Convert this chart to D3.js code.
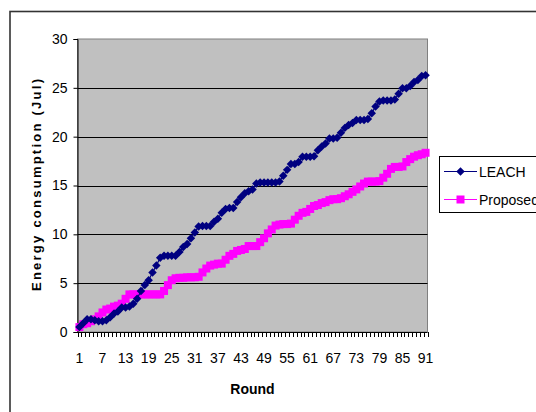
<!DOCTYPE html>
<html>
<head>
<meta charset="utf-8">
<script src="https://cdn.jsdelivr.net/npm/d3@7"></script>
<style>
  html, body { margin: 0; padding: 0; background: #fff; }
  svg { display: block; font-family: "Liberation Sans", Arial, sans-serif; }
</style>
</head>
<body>
<svg id="chart" width="536" height="412"></svg>
<script>
const rounds = d3.range(1, 92);
const tickLabels = [1, 7, 13, 19, 25, 31, 37, 43, 49, 55, 61, 67, 73, 79, 85, 91];
const yTicks = [0, 5, 10, 15, 20, 25, 30];
const seriesNames = ["LEACH", "Proposed"];
const leach = [
  0.5, 0.9, 1.3, 1.3, 1.2, 1.1, 1.1, 1.2, 1.5, 1.9,
  2.1, 2.5, 2.5, 2.6, 2.9, 3.4, 4.2, 4.8, 5.3, 6.1,
  6.8, 7.6, 7.8, 7.8, 7.8, 7.8, 8.2, 8.7, 9.0, 9.6,
  10.2, 10.8, 10.85, 10.85, 10.85, 11.3, 11.6, 12.2, 12.6, 12.7,
  12.7, 13.3, 13.8, 14.2, 14.4, 14.6, 15.2, 15.3, 15.3, 15.3,
  15.3, 15.3, 15.4, 16.0, 16.6, 17.2, 17.2, 17.4, 17.95, 17.95,
  17.95, 18.0, 18.6, 19.0, 19.3, 19.8, 19.8, 19.9, 20.4, 20.9,
  21.2, 21.4, 21.7, 21.7, 21.7, 21.8, 22.4, 23.1, 23.6, 23.7,
  23.7, 23.7, 23.8, 24.4, 24.95, 24.95, 25.2, 25.6, 25.8, 26.2,
  26.3
];
const proposed = [
  0.5, 0.8, 0.9, 1.1, 1.3, 1.6, 2.0, 2.3, 2.4, 2.6,
  2.7, 2.9, 3.4, 3.85, 3.85, 3.85, 3.85, 3.85, 3.85, 3.85,
  3.85, 3.85, 4.2, 4.8, 5.3, 5.5, 5.55, 5.55, 5.6, 5.6,
  5.6, 5.65, 6.1, 6.5, 6.8, 6.9, 7.0, 7.0, 7.4, 7.8,
  8.0, 8.3, 8.4, 8.5, 8.8, 8.8, 8.8, 9.2, 9.6, 10.1,
  10.5, 10.9, 11.0, 11.05, 11.05, 11.1, 11.5, 11.9, 12.2, 12.3,
  12.6, 12.9, 13.0, 13.2, 13.3, 13.5, 13.6, 13.6, 13.7, 13.9,
  14.1, 14.35, 14.6, 14.9, 15.2, 15.4, 15.4, 15.4, 15.45, 15.8,
  16.2, 16.7, 16.9, 16.9, 16.95, 17.4, 17.7, 17.95, 18.1, 18.2,
  18.35
];

const svg = d3.select("#chart");
const pLeft = 77.5, pRight = 427.5, pTop = 39, pBottom = 332;

// outer chart frame
svg.append("rect").attr("x", 10).attr("y", 11.5).attr("width", 600).attr("height", 500)
  .attr("fill", "#fff").attr("stroke", "#333").attr("stroke-width", 1.6);

const x = d3.scaleBand().domain(rounds).range([pLeft, pRight]);
const y = d3.scaleLinear().domain([0, 30]).range([pBottom, pTop]);

// plot area
svg.append("rect").attr("x", pLeft).attr("y", pTop).attr("width", pRight - pLeft).attr("height", pBottom - pTop)
  .attr("fill", "#c0c0c0").attr("stroke", "#808080").attr("stroke-width", 1);

// gridlines
svg.append("g").selectAll("line").data(yTicks.filter(d => d > 0 && d < 30)).join("line")
  .attr("x1", pLeft).attr("x2", pRight)
  .attr("y1", d => Math.round(y(d)) + 0.5).attr("y2", d => Math.round(y(d)) + 0.5)
  .attr("stroke", "#000").attr("stroke-width", 1);

// y axis
const yAxis = d3.axisLeft(y).tickValues(yTicks).tickSize(4).tickPadding(6);
const gy = svg.append("g").attr("transform", `translate(${pLeft},0)`).call(yAxis);
gy.select(".domain").attr("stroke", "#000");
gy.selectAll("text").attr("font-size", 14).attr("fill", "#000")
  .attr("font-family", "Liberation Sans, Arial, sans-serif");

// x axis: ticks between categories
const gx = svg.append("g").attr("transform", `translate(0,${pBottom})`);
gx.append("line").attr("x1", pLeft).attr("x2", pRight).attr("y1", 0.5).attr("y2", 0.5).attr("stroke", "#000");
const boundaries = rounds.map(r => x(r)).concat([pRight]);
gx.selectAll("line.tk").data(boundaries).join("line").attr("class", "tk")
  .attr("x1", d => Math.round(d) + 0.5).attr("x2", d => Math.round(d) + 0.5)
  .attr("y1", 0).attr("y2", 5).attr("stroke", "#000");
gx.selectAll("text").data(tickLabels).join("text")
  .attr("x", d => x(d) + x.bandwidth() / 2).attr("y", 31)
  .attr("text-anchor", "middle").attr("font-size", 14).attr("fill", "#000")
  .text(d => d);

// axis titles
svg.append("text").attr("x", (pLeft + pRight) / 2).attr("y", 394)
  .attr("text-anchor", "middle").attr("font-size", 14).attr("font-weight", "bold").text("Round");
svg.append("text").attr("transform", `translate(41,185) rotate(-90)`)
  .attr("text-anchor", "middle").attr("font-size", 13).attr("font-weight", "bold")
  .attr("textLength", 212).attr("lengthAdjust", "spacing")
  .text("Energy consumption (Jul)");

const cx = r => x(r) + x.bandwidth() / 2;
const line = d3.line().x((d, i) => cx(rounds[i])).y(d => y(d));

// Proposed series
svg.append("path").datum(proposed).attr("d", line).attr("fill", "none")
  .attr("stroke", "#ff00ff").attr("stroke-width", 1.2);
svg.append("g").selectAll("rect").data(proposed).join("rect")
  .attr("x", (d, i) => cx(rounds[i]) - 4).attr("y", d => y(d) - 4)
  .attr("width", 8).attr("height", 8).attr("fill", "#ff00ff");

// LEACH series
const diamond = d3.symbol().type(d3.symbolDiamond2).size(46);
svg.append("path").datum(leach).attr("d", line).attr("fill", "none")
  .attr("stroke", "#000080").attr("stroke-width", 1.2);
svg.append("g").selectAll("path").data(leach).join("path")
  .attr("transform", (d, i) => `translate(${cx(rounds[i])},${y(d)})`)
  .attr("d", diamond).attr("fill", "#000080");

// legend
const lg = svg.append("g");
lg.append("rect").attr("x", 439.5).attr("y", 156.5).attr("width", 200).attr("height", 56)
  .attr("fill", "#fff").attr("stroke", "#000").attr("stroke-width", 1);
const colors = ["#000080", "#ff00ff"];
const rowsY = [171.5, 199.5];
seriesNames.forEach((name, i) => {
  lg.append("line").attr("x1", 444).attr("x2", 477).attr("y1", rowsY[i]).attr("y2", rowsY[i])
    .attr("stroke", colors[i]).attr("stroke-width", 1.2);
  if (i === 0) {
    lg.append("path").attr("transform", `translate(460.5,${rowsY[i]})`).attr("d", diamond).attr("fill", colors[i]);
  } else {
    lg.append("rect").attr("x", 456.5).attr("y", rowsY[i] - 4).attr("width", 8).attr("height", 8).attr("fill", colors[i]);
  }
  lg.append("text").attr("x", 479).attr("y", rowsY[i] + 5.3).attr("font-size", 14).text(name);
});
</script>
</body>
</html>
